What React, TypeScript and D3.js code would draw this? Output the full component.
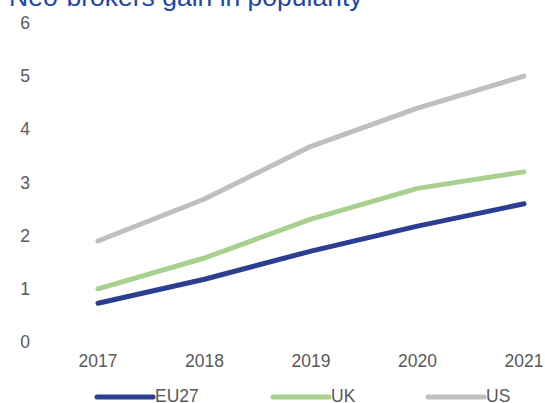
import React, { useEffect, useRef } from 'react';
import * as d3 from 'd3';

const years = ['2017', '2018', '2019', '2020', '2021'];
const seriesNames = ['EU27', 'UK', 'US'];
const eu27 = [0.73, 1.18, 1.71, 2.18, 2.6];
const uk = [1.0, 1.58, 2.31, 2.89, 3.2];
const us = [1.9, 2.69, 3.68, 4.4, 5.0];
const yTicks = [0, 1, 2, 3, 4, 5, 6];
const colors = ['#2b3e91', '#a9d18e', '#bfbfbf'];

const W = 545;
const H = 403;

const App: React.FC = () => {
    const ref = useRef<SVGSVGElement>(null);

    useEffect(() => {
        const svg = d3.select(ref.current);
        svg.selectAll('*').remove();

        const x = d3.scalePoint<string>().domain(years).range([98, 524]);
        const y = d3.scaleLinear().domain([0, 6]).range([342, 23]);
        const font = '"Liberation Sans", Arial, sans-serif';

        // title, partly cut off at the top like the original
        svg.append('text')
            .attr('x', 9)
            .attr('y', 6)
            .style('font-family', font)
            .style('font-size', '26.5px')
            .attr('fill', '#2046a8')
            .text('Neo-brokers gain in popularity');

        // y labels
        svg.append('g').selectAll('text')
            .data(yTicks)
            .enter()
            .append('text')
            .attr('x', 25)
            .attr('y', d => y(d) + 6)
            .attr('text-anchor', 'middle')
            .style('font-family', font)
            .style('font-size', '17.5px')
            .attr('fill', '#595959')
            .text(d => d);

        // x labels
        svg.append('g').selectAll('text')
            .data(years)
            .enter()
            .append('text')
            .attr('x', d => x(d)!)
            .attr('y', 367)
            .attr('text-anchor', 'middle')
            .style('font-family', font)
            .style('font-size', '17.5px')
            .attr('fill', '#595959')
            .text(d => d);

        const all = [eu27, uk, us];
        const line = d3.line<number>()
            .x((_, i) => x(years[i])!)
            .y(d => y(d));

        // draw US first so EU27 ends up on top
        [2, 1, 0].forEach(i => {
            svg.append('path')
                .attr('d', line(all[i]))
                .attr('fill', 'none')
                .attr('stroke', colors[i])
                .attr('stroke-width', 5)
                .attr('stroke-linecap', 'round')
                .attr('stroke-linejoin', 'round');
        });

        // legend
        const legendX = [97, 273, 428];
        const lg = svg.append('g');
        seriesNames.forEach((name, i) => {
            lg.append('line')
                .attr('x1', legendX[i])
                .attr('x2', legendX[i] + 56)
                .attr('y1', 397)
                .attr('y2', 397)
                .attr('stroke', colors[i])
                .attr('stroke-width', 5)
                .attr('stroke-linecap', 'round');
            lg.append('text')
                .attr('x', legendX[i] + 58)
                .attr('y', 402)
                .style('font-family', font)
                .style('font-size', '17.5px')
                .attr('fill', '#595959')
                .text(name);
        });
    }, []);

    return (
        <svg
            ref={ref}
            width={W}
            height={H}
            style={{ position: 'absolute', left: 0, top: 0, background: '#fff' }}
        />
    );
};

export default App;
